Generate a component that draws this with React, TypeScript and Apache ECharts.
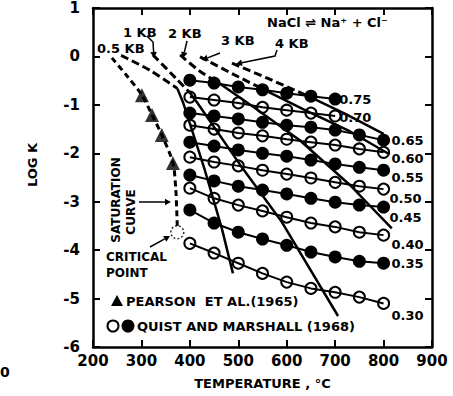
import React, { useEffect, useRef } from "react";
import * as echarts from "echarts";

// ---------- data ----------
const temps = [400, 450, 500, 550, 600, 650, 700, 750, 800];
const densityLabels = ["0.75", "0.70", "0.65", "0.60", "0.55", "0.50", "0.45", "0.40", "0.35", "0.30"];
const logK075 = [-0.49, -0.55, -0.63, -0.69, -0.76, -0.82, -0.88];
const logK070 = [-0.84, -0.9, -0.96, -1.05, -1.11, -1.17, -1.23];
const logK065 = [-1.17, -1.23, -1.29, -1.36, -1.42, -1.46, -1.52, -1.62, -1.73];
const logK060 = [-1.42, -1.5, -1.58, -1.64, -1.71, -1.77, -1.83, -1.91, -1.98];
const logK055 = [-1.77, -1.85, -1.93, -2.0, -2.06, -2.14, -2.22, -2.29, -2.35];
const logK050 = [-2.08, -2.18, -2.26, -2.35, -2.43, -2.51, -2.6, -2.68, -2.74];
const logK045 = [-2.45, -2.57, -2.68, -2.76, -2.84, -2.93, -3.01, -3.07, -3.11];
const logK040 = [-2.72, -2.93, -3.07, -3.19, -3.32, -3.44, -3.52, -3.63, -3.69];
const logK035 = [-3.17, -3.44, -3.63, -3.77, -3.9, -4.04, -4.14, -4.23, -4.27];
const logK030 = [-3.86, -4.06, -4.27, -4.48, -4.66, -4.79, -4.87, -4.97, -5.1];
const densitySeries = [logK075, logK070, logK065, logK060, logK055, logK050, logK045, logK040, logK035, logK030];

// isobars [T, logK]
const iso05Dashed = [[258, 0.02], [320, -0.3], [374, -0.66]];
const iso05Solid = [[374, -0.66], [386, -0.95], [431, -2.35], [466, -3.55], [489, -4.48]];
const iso1Dashed = [[324, 0.03], [371, -0.45], [400, -0.75]];
const iso1Solid = [[400, -0.75], [415, -0.95], [504, -2.24], [590, -3.42], [706, -5.36]];
const iso2Dashed = [[380, 0.03], [420, -0.3], [460, -0.55]];
const iso2Solid = [[460, -0.55], [535, -1.07], [627, -1.73], [731, -2.66], [817, -3.55]];
const iso3Dashed = [[421, -0.01], [500, -0.42], [560, -0.72]];
const iso3Solid = [[560, -0.72], [640, -1.12], [731, -1.55], [812, -2.02]];
const iso4Dashed = [[487, -0.14], [560, -0.45], [640, -0.8]];
const iso4Solid = [[640, -0.8], [720, -1.18], [800, -1.6]];

const saturationCurve = [[239, -0.03], [270, -0.4], [301, -0.8], [322, -1.21], [342, -1.62], [365, -2.2], [371, -2.76], [373, -3.2], [374, -3.5]];
const pearsonT = [301, 322, 342, 365];
const pearsonLogK = [-0.8, -1.21, -1.62, -2.2];
const criticalPoint = [374, -3.63];

const xTicks = { min: 200, max: 900, step: 100 };
const yTicks = { min: -6, max: 1, step: 1 };

// ---------- styles ----------
const FONT = "'DejaVu Sans', 'Liberation Sans', sans-serif";
const labelOffsets = [[0, 0], [0, 2], [4, 0], [4, 6], [4, 7], [2, 9], [2, 10], [4, 9], [4, 0], [4, 12]];

function arrow(pts: number[][], head = 6) {
  const n = pts.length;
  const [x1, y1] = pts[n - 2];
  const [x2, y2] = pts[n - 1];
  const a = Math.atan2(y2 - y1, x2 - x1);
  const w = head * 0.55;
  const bx = x2 - head * Math.cos(a);
  const by = y2 - head * Math.sin(a);
  return [
    { type: "polyline", shape: { points: pts.slice(0, n - 1).concat([[bx, by]]) }, style: { stroke: "#000", lineWidth: 1.5, fill: null } },
    {
      type: "polygon",
      shape: { points: [[x2, y2], [bx - w * Math.sin(a), by + w * Math.cos(a)], [bx + w * Math.sin(a), by - w * Math.cos(a)]] },
      style: { fill: "#000" },
    },
  ];
}

function text(t: string, x: number, y: number, size = 13, align = "left", rotation = 0) {
  return {
    type: "text",
    x,
    y,
    rotation,
    style: { text: t, fill: "#000", font: `bold ${size}px ${FONT}`, textAlign: align, textVerticalAlign: "middle" },
  };
}

export default function App() {
  const ref = useRef<HTMLDivElement>(null);
  useEffect(() => {
    if (!ref.current) return;
    const chart = echarts.init(ref.current, null, { renderer: "svg" });
    const axisLine = { onZero: false, lineStyle: { color: "#000", width: 2.5 } };
    const axisTick = { inside: true, length: 7, lineStyle: { color: "#000", width: 2 } };

    const series: any[] = [];
    densitySeries.forEach((vals, i) => {
      const filled = i % 2 === 0;
      series.push({
        type: "line",
        name: densityLabels[i],
        data: vals.map((v, j) => [temps[j], v]),
        lineStyle: { color: "#000", width: 2 },
        symbol: "circle",
        symbolSize: filled ? 13 : 11,
        itemStyle: filled
          ? { color: "#000", borderColor: "#000", borderWidth: 0 }
          : { color: "rgba(255,255,255,0)", borderColor: "#000", borderWidth: 2 },
        endLabel: {
          show: true,
          formatter: densityLabels[i],
          color: "#000",
          fontFamily: FONT,
          fontWeight: "bold",
          fontSize: 13,
          distance: 4,
          offset: labelOffsets[i],
        },
        z: 4,
        silent: true,
      });
    });
    const isoDashed = [iso05Dashed, iso1Dashed, iso2Dashed, iso3Dashed, iso4Dashed];
    const isoSolid = [iso05Solid, iso1Solid, iso2Solid, iso3Solid, iso4Solid];
    isoDashed.forEach((d) =>
      series.push({ type: "line", data: d, symbol: "none", smooth: 0.3, lineStyle: { color: "#000", width: 3, type: [8, 4] }, z: 3, silent: true })
    );
    isoSolid.forEach((d) =>
      series.push({ type: "line", data: d, symbol: "none", lineStyle: { color: "#000", width: 2.5 }, z: 3, silent: true })
    );
    series.push({ type: "line", data: saturationCurve, symbol: "none", smooth: 0.3, lineStyle: { color: "#000", width: 3, type: [6, 4] }, z: 3 });
    series.push({
      type: "scatter",
      data: pearsonT.map((t, i) => [t, pearsonLogK[i]]),
      symbol: "triangle",
      symbolSize: 14,
      itemStyle: { color: "#000" },
      z: 5,
    });
    series.push({
      type: "scatter",
      data: [criticalPoint],
      symbol: "circle",
      symbolSize: 13,
      itemStyle: { color: "#fff", borderColor: "#000", borderWidth: 1.5, borderType: [2, 2] },
      z: 5,
    });

    const graphic: any[] = [
      text("0.5 KB", 97, 48),
      text("1 KB", 123, 32),
      text("2 KB", 168, 33),
      text("3 KB", 221, 40),
      text("4 KB", 275, 43),
      text("NaCl \u21CC Na\u207A + Cl\u207B", 267, 22),
      ...arrow([[147, 36], [153, 42], [154, 58]]),
      ...arrow([[187, 41], [183, 58]]),
      ...arrow([[220, 53], [202, 60]]),
      ...arrow([[277, 50], [275, 56], [236, 64]]),
      text("SATURATION", 116, 200, 12, "center", Math.PI / 2),
      text("CURVE", 131, 212, 12, "center", Math.PI / 2),
      ...arrow([[139, 202], [171, 202]]),
      text("CRITICAL", 106, 257, 12),
      text("POINT", 106, 273, 12),
      ...arrow([[150, 247], [170, 236]]),
      { type: "polygon", shape: { points: [[111, 306], [123, 306], [117, 295]] }, style: { fill: "#000" } },
      text("PEARSON  ET AL.(1965)", 126, 301),
      { type: "circle", shape: { cx: 113, cy: 326, r: 5.5 }, style: { fill: "#fff", stroke: "#000", lineWidth: 2 } },
      { type: "circle", shape: { cx: 128, cy: 326, r: 6.5 }, style: { fill: "#000" } },
      text("QUIST AND MARSHALL (1968)", 137, 326),
      text("LOG K", 32, 165, 13, "center", Math.PI / 2),
      text("0", 0, 372, 14),
    ];

    chart.setOption({
      animation: false,
      backgroundColor: "#fff",
      grid: { left: 93, right: 21, top: 8, bottom: 49 },
      xAxis: [
        {
          type: "value",
          min: xTicks.min,
          max: xTicks.max,
          interval: xTicks.step,
          position: "bottom",
          axisLine,
          axisTick,
          splitLine: { show: false },
          axisLabel: { color: "#000", fontFamily: FONT, fontWeight: "bold", fontSize: 15, margin: 6 },
          name: "TEMPERATURE , \u00B0C",
          nameLocation: "middle",
          nameGap: 30,
          nameTextStyle: { color: "#000", fontFamily: FONT, fontWeight: "bold", fontSize: 13 },
        },
        {
          type: "value",
          min: xTicks.min,
          max: xTicks.max,
          interval: xTicks.step,
          position: "top",
          axisLine,
          axisTick,
          splitLine: { show: false },
          axisLabel: { show: false },
        },
      ],
      yAxis: [
        {
          type: "value",
          min: yTicks.min,
          max: yTicks.max,
          interval: yTicks.step,
          position: "left",
          axisLine,
          axisTick,
          splitLine: { show: false },
          axisLabel: { color: "#000", fontFamily: FONT, fontWeight: "bold", fontSize: 15, margin: 13 },
        },
        {
          type: "value",
          min: yTicks.min,
          max: yTicks.max,
          interval: yTicks.step,
          position: "right",
          axisLine,
          axisTick,
          splitLine: { show: false },
          axisLabel: { show: false },
        },
      ],
      series,
      graphic,
    });
    return () => chart.dispose();
  }, []);
  return <div ref={ref} style={{ position: "fixed", left: 0, top: 0, width: 453, height: 396, background: "#fff" }} />;
}
